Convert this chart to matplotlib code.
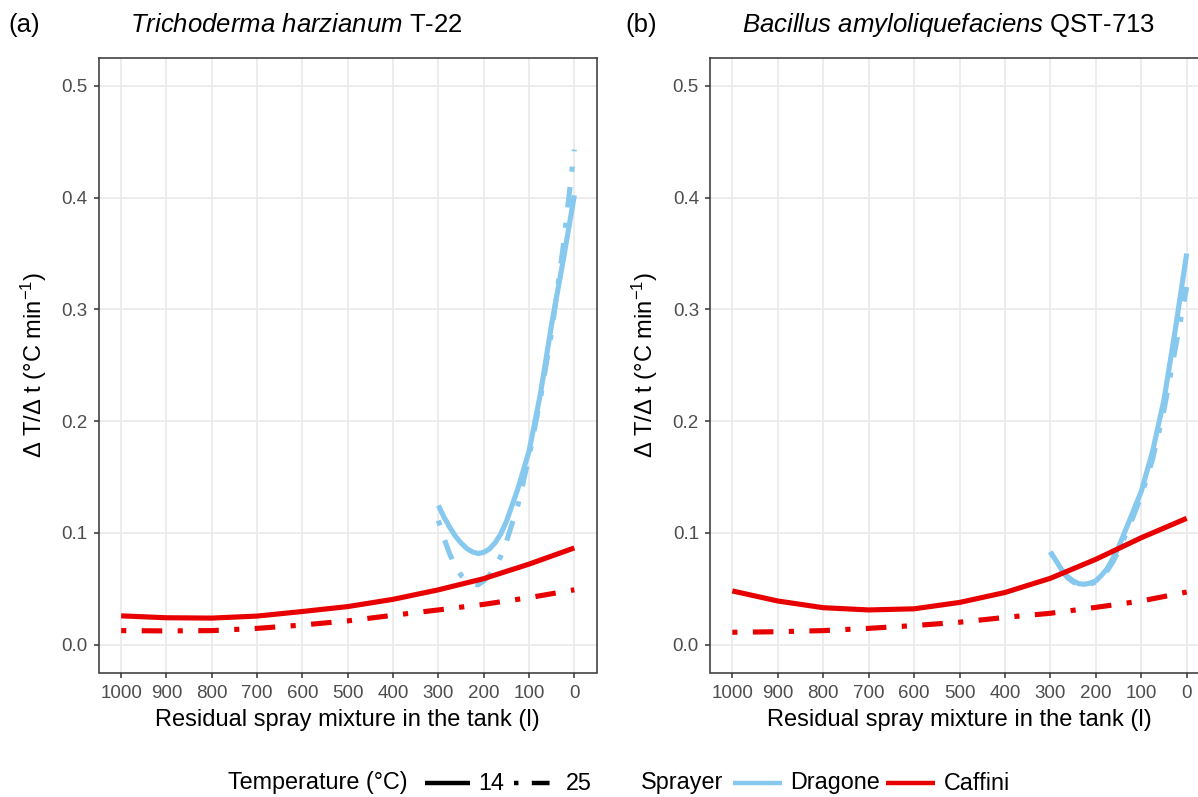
import matplotlib
matplotlib.use('Agg')
import matplotlib.pyplot as plt
from matplotlib.lines import Line2D

plt.rcParams['font.family'] = ['Liberation Sans', 'DejaVu Sans']
plt.rcParams['mathtext.fontset'] = 'custom'
plt.rcParams['mathtext.rm'] = 'Liberation Sans'
plt.rcParams['mathtext.it'] = 'Liberation Sans:italic'
plt.rcParams['mathtext.bf'] = 'Liberation Sans:bold'

# ---------------- data ----------------
residual_red = [1000, 900, 800, 700, 600, 500, 400, 300, 200, 100, 0]
residual_blue = [300, 287.5, 275, 262.5, 250, 237.5, 225, 212.5, 200, 187.5,
                 175, 162.5, 150, 125, 100, 75, 50, 25, 0]

a_caffini_14 = [0.0257, 0.0240, 0.0237, 0.0255, 0.0296, 0.0340, 0.0405, 0.0490, 0.0590, 0.0720, 0.0865]
a_caffini_25 = [0.0125, 0.0122, 0.0125, 0.0145, 0.0175, 0.0212, 0.0262, 0.0310, 0.0360, 0.0420, 0.0490]
a_dragone_14 = [0.1245, 0.1140, 0.1050, 0.0970, 0.0910, 0.0860, 0.0830, 0.0815, 0.0825, 0.0855,
                0.0910, 0.0990, 0.1100, 0.1390, 0.1730, 0.2240, 0.2870, 0.3430, 0.4020]
a_dragone_25 = [0.1110, 0.0950, 0.0810, 0.0700, 0.0620, 0.0570, 0.0540, 0.0535, 0.0570, 0.0620,
                0.0690, 0.0790, 0.0920, 0.1240, 0.1680, 0.2200, 0.2800, 0.3550, 0.4430]

b_caffini_14 = [0.0480, 0.0390, 0.0330, 0.0310, 0.0320, 0.0377, 0.0466, 0.0593, 0.0763, 0.0956, 0.1130]
b_caffini_25 = [0.0110, 0.0115, 0.0125, 0.0145, 0.0170, 0.0200, 0.0243, 0.0280, 0.0333, 0.0390, 0.0470]
b_dragone_14 = [0.0830, 0.0750, 0.0670, 0.0610, 0.0570, 0.0545, 0.0540, 0.0550, 0.0570, 0.0620,
                0.0680, 0.0770, 0.0870, 0.1120, 0.1370, 0.1730, 0.2190, 0.2820, 0.3500]
b_dragone_25 = [0.0830, 0.0740, 0.0660, 0.0600, 0.0560, 0.0535, 0.0530, 0.0540, 0.0560, 0.0600,
                0.0660, 0.0740, 0.0840, 0.1070, 0.1330, 0.1660, 0.2100, 0.2650, 0.3200]

x_ticks = [1000, 900, 800, 700, 600, 500, 400, 300, 200, 100, 0]
y_ticks = [0.0, 0.1, 0.2, 0.3, 0.4, 0.5]

panel_tags = ['(a)', '(b)']
panel_titles = [r'$\it{Trichoderma\ harzianum}$ T-22',
                r'$\it{Bacillus\ amyloliquefaciens}$ QST-713']
temp_labels = ['14', '25']
sprayer_labels = ['Dragone', 'Caffini']

# ---------------- style ----------------
BLUE = '#87C8EE'
RED = '#E80000'
sprayer_colors = {'Dragone': BLUE, 'Caffini': RED}
SOLID = '-'
DOTDASH = (0, (1, 3, 4, 3))
temp_styles = {'14': SOLID, '25': DOTDASH}
LW = 3.7

W, H = 1198, 797
fig = plt.figure(figsize=(W / 100, H / 100), dpi=100)


def px(x0, y0, w, h):
    return [x0 / W, 1 - (y0 + h) / H, w / W, h / H]


ax_a = fig.add_axes(px(98.5, 58, 498.5, 614.5))
ax_b = fig.add_axes(px(709.6, 58, 499.8, 614.5))

panels = [
    (ax_a, a_dragone_14, a_dragone_25, a_caffini_14, a_caffini_25),
    (ax_b, b_dragone_14, b_dragone_25, b_caffini_14, b_caffini_25),
]

for ax, d14, d25, c14, c25 in panels:
    ax.set_facecolor('white')
    for s in ax.spines.values():
        s.set_color('#333333')
        s.set_linewidth(1.1)
    ax.set_xlim(1050, -50)
    ax.set_ylim(-0.025, 0.525)
    ax.set_xticks(x_ticks)
    ax.set_xticklabels([str(v) for v in x_ticks])
    ax.set_yticks(y_ticks)
    ax.set_yticklabels([f'{v:.1f}' for v in y_ticks])
    ax.grid(True, color='#EBEBEB', linewidth=1.3)
    ax.set_axisbelow(True)
    ax.tick_params(axis='both', colors='#333333', labelcolor='#4D4D4D',
                   labelsize=13.5, length=3.5, width=1.1, pad=4.2)
    ax.tick_params(axis='x', pad=5.5)

    ax.plot(residual_blue, d14, color=BLUE, lw=LW, linestyle=SOLID,
            solid_capstyle='butt', solid_joinstyle='round')
    ax.plot(residual_blue, d25, color=BLUE, lw=LW, linestyle=DOTDASH,
            dash_capstyle='butt')
    ax.plot(residual_red, c14, color=RED, lw=LW, linestyle=SOLID,
            solid_capstyle='butt', solid_joinstyle='round')
    ax.plot(residual_red, c25, color=RED, lw=LW, linestyle=DOTDASH,
            dash_capstyle='butt')

    ax.set_xlabel('Residual spray mixture in the tank (l)', fontsize=17,
                  labelpad=5)
    ax.set_ylabel(r'Δ T/Δ t (°C min$^{-1}$)', fontsize=17, labelpad=9)

# titles and tags
fig.text(8 / W, 1 - 25 / H, panel_tags[0], fontsize=18.5, va='center', ha='left')
fig.text(625 / W, 1 - 25 / H, panel_tags[1], fontsize=18.5, va='center', ha='left')
fig.text(130 / W, 1 - 25 / H, panel_titles[0], fontsize=18.5, va='center', ha='left')
fig.text(742 / W, 1 - 25 / H, panel_titles[1], fontsize=18.5, va='center', ha='left')

# ---------------- legend ----------------
ly = 1 - 783 / H


def key(x0, x1, **kw):
    fig.add_artist(Line2D([x0 / W, x1 / W], [ly, ly], transform=fig.transFigure,
                          lw=3.2, **kw))


fig.text(228 / W, ly, 'Temperature (°C)', fontsize=16.8, va='center', ha='left')
temp_x = [(425, 470, 478), (514, 560, 566)]
for lab, (x0, x1, xt) in zip(temp_labels, temp_x):
    ls = temp_styles[lab]
    if ls == SOLID:
        key(x0, x1, color='black', linestyle=ls, solid_capstyle='butt')
    else:
        key(x0, x1, color='black', linestyle=ls, dash_capstyle='butt')
    fig.text(xt / W, ly, lab, fontsize=16.8, va='center', ha='left')

fig.text(641 / W, ly, 'Sprayer', fontsize=16.8, va='center', ha='left')
spr_x = [(733, 782, 790), (886, 935, 944)]
for lab, (x0, x1, xt) in zip(sprayer_labels, spr_x):
    key(x0, x1, color=sprayer_colors[lab], linestyle='-', solid_capstyle='butt')
    fig.text(xt / W, ly, lab, fontsize=16.8, va='center', ha='left')

fig.savefig('out.png', dpi=100, facecolor='white')
